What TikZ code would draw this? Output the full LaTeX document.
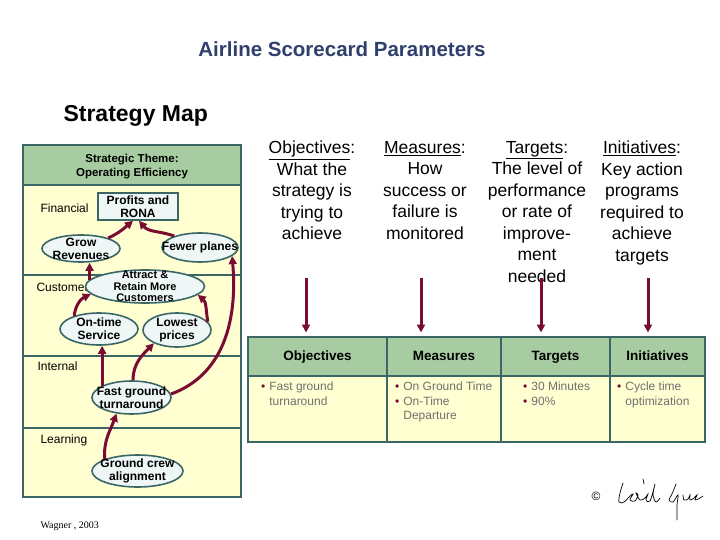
\documentclass[tikz,border=0pt]{standalone}
\usepackage{fontspec}
\setmainfont{Liberation Sans}
\newfontfamily\citefont{Liberation Serif}
\usetikzlibrary{arrows.meta, positioning, shapes.geometric}
\definecolor{flowred}{HTML}{7A0C33}
\definecolor{titleblue}{HTML}{2F406C}
\definecolor{edgeteal}{HTML}{3B6666}
\definecolor{headgreen}{HTML}{A8CCA2}
\definecolor{bodyyellow}{HTML}{FFFFD2}
\definecolor{goalfill}{HTML}{EEF7F6}
\definecolor{bodygray}{HTML}{707070}
\newcommand{\bul}{\textcolor{flowred}{\textbullet}\hspace{4pt}}

\begin{document}
\begin{tikzpicture}[x=1pt, y=-1pt, >={Triangle[length=8pt, width=8pt]},
  flow/.style={->, flowred, line width=3pt},
  goal/.style={ellipse, draw=edgeteal, fill=goalfill, line width=1.6pt, inner sep=0pt},
  goaltext/.style={font=\fontsize{12}{13}\selectfont\bfseries, align=center},
  band/.style={anchor=base west, font=\fontsize{12}{14}\selectfont},
  coltext/.style={anchor=north, align=center, inner sep=0pt, font=\fontsize{17.5}{21.5}\selectfont},
  cellhead/.style={draw=edgeteal, fill=headgreen, line width=1.8pt, minimum height=39pt, inner sep=0pt, outer sep=0pt, text height=10pt, text depth=3pt, font=\fontsize{13.5}{15}\selectfont\bfseries},
  cellbody/.style={draw=edgeteal, fill=bodyyellow, line width=1.8pt, minimum height=66pt, inner sep=0pt, outer sep=0pt},
  bullets/.style={anchor=north west, align=left, inner sep=0pt, text=bodygray, font=\fontsize{12}{14.5}\selectfont}]
  \fill[white] (0,0) rectangle (720,540);
  \useasboundingbox (0,0) rectangle (720,540);

  % titles
  \node[anchor=base, text=titleblue, font=\fontsize{20.5}{22}\selectfont\bfseries] (title) at (342,57) {Airline Scorecard Parameters};
  \node[anchor=base west, font=\fontsize{23}{25}\selectfont\bfseries] (mapname) at (60,122) {Strategy Map};

  % strategy map frame
  \fill[bodyyellow] (23,145) rectangle (241,497);
  \fill[headgreen] (23,145) rectangle (241,185);
  \foreach \y in {185,275,356,428}
    \draw[edgeteal, line width=1.6pt] (23,\y) -- (241,\y);
  \draw[edgeteal, line width=2pt] (23,145) rectangle (241,497);
  \node[align=center, font=\fontsize{11.5}{14}\selectfont\bfseries] (theme) at (132,167) {Strategic Theme:\\Operating Efficiency};

  \node[band] (fin) at (37,213) {Financial};
  \node[band] (cust) at (33,291) {Customer};
  \node[band] (int) at (34,370) {Internal};
  \node[band] (learn) at (37,443) {Learning};

  % objectives
  \node[draw=edgeteal, fill=goalfill, line width=1.6pt, minimum width=80pt, minimum height=27pt, inner sep=0pt, goaltext] (profits) at (138,206.5) {Profits and\\RONA};
  \node[goal, minimum width=78pt, minimum height=27pt, label={[goaltext]center:Grow\\Revenues}] (grow) at (81,248.5) {};
  \node[goal, minimum width=76pt, minimum height=29pt, label={[goaltext]center:Fewer planes}] (fewer) at (200,247.5) {};
  \node[goal, minimum width=119pt, minimum height=33pt, label={[goaltext, font=\fontsize{11}{11.5}\selectfont\bfseries]center:Attract \&\\Retain More\\Customers}] (attract) at (145,286.5) {};
  \node[goal, minimum width=78pt, minimum height=32pt, label={[goaltext]center:On-time\\Service}] (ontime) at (99,329) {};
  \node[goal, minimum width=68pt, minimum height=34pt, label={[goaltext]center:Lowest\\prices}] (lowest) at (177,330) {};
  \node[goal, minimum width=79pt, minimum height=33pt, label={[goaltext]center:Fast ground\\turnaround}] (fast) at (131.5,397.5) {};
  \node[goal, minimum width=91pt, minimum height=32pt, label={[goaltext]center:Ground crew\\alignment}] (crew) at (137.5,471) {};

  % cause and effect links
  \draw[flow] (grow.21) to[out=25, in=-140] ([xshift=-5pt]profits.south);
  \draw[flow] (fewer.156) to[out=160, in=-50] ([xshift=1pt]profits.south);
  \draw[flow] (attract.173) -- (attract.173 |- grow.south);
  \draw[flow] (ontime.152) to[out=85, in=-155] (attract.-172);
  \draw[flow] (lowest.15) to[out=100, in=-40] (attract.-9);
  \draw[flow] (fast.5) to[out=20, in=-85] (fewer.-15);
  \draw[flow] (fast.158) -- (fast.158 |- ontime.south);
  \draw[flow] (fast.85) to[out=90, in=-135] (lowest.-150);
  \draw[flow] (crew.160) to[out=95, in=-110] (fast.-133);

  % scorecard columns
  \node[coltext] (objq) at (312,141) {\underline{Objectives}:\\What the\\strategy is\\trying to\\achieve};
  \node[coltext] (meaq) at (425,141) {\underline{Measures}:\\How\\success or\\failure is\\monitored};
  \node[coltext] (tarq) at (537,141) {\underline{Targets}:\\The level of\\performance\\or rate of\\improve-\\ment\\needed};
  \node[coltext] (iniq) at (642,141) {\underline{Initiatives}:\\Key action\\programs\\required to\\achieve\\targets};

  \node[cellhead, minimum width=139pt, anchor=north west] (objh) at (248,337) {Objectives};
  \node[cellhead, minimum width=114pt, right=0pt of objh] (meah) {Measures};
  \node[cellhead, minimum width=109pt, right=0pt of meah] (tarh) {Targets};
  \node[cellhead, minimum width=95pt, right=0pt of tarh] (inih) {Initiatives};
  \node[cellbody, minimum width=139pt, below=0pt of objh] (objb) {};
  \node[cellbody, minimum width=114pt, below=0pt of meah] (meab) {};
  \node[cellbody, minimum width=109pt, below=0pt of tarh] (tarb) {};
  \node[cellbody, minimum width=95pt, below=0pt of inih] (inib) {};

  \node[bullets] (objl) at ([xshift=13pt, yshift=-6pt]objb.north west) {\bul Fast ground\\\hphantom{\bul}turnaround};
  \node[bullets] (meal) at ([xshift=8pt, yshift=-6pt]meab.north west) {\bul On Ground Time\\\bul On-Time\\\hphantom{\bul}Departure};
  \node[bullets] (tarl) at ([xshift=22pt, yshift=-6pt]tarb.north west) {\bul 30 Minutes\\\bul 90\%};
  \node[bullets] (inil) at ([xshift=7pt, yshift=-6pt]inib.north west) {\bul Cycle time\\\hphantom{\bul}optimization};

  \foreach \name/\x in {obj/306, mea/421, tar/541, ini/648} {
    \coordinate (\name top) at (\x,278);
    \draw[flow, shorten >=4.5pt] (\name top) -- (\name top |- \name h.north);
  }

  % source and signature
  \node[anchor=base west, font=\citefont\fontsize{10}{12}\selectfont] (cite) at (37,528) {Wagner , 2003};
  \node[font=\fontsize{12}{14}\selectfont] (copy) at (596,496) {\textcopyright};
  \draw[line width=0.7pt, line cap=round] plot[smooth, tension=0.6] coordinates {(623,483) (620,493) (619,502) (624,502) (630,496) (633,494) (630,500) (635,501) (638,495) (636,493) (640,500) (645,498) (648,494) (646,500) (650,501) (654,488) (655,484) (653,495) (656,502) (660,498)};
  \draw[line width=0.7pt, line cap=round] plot[smooth, tension=0.6] coordinates {(676,484) (672,494) (669,500) (673,502) (678,495) (677,505) (677,520)};
  \draw[line width=0.7pt, line cap=round] plot[smooth, tension=0.6] coordinates {(683,495) (684,500) (688,499) (690,495) (690,500) (694,498) (697,495) (695,500) (700,498) (703,496)};
  \draw[line width=0.7pt, line cap=round] (643,479) -- (644,484);
\end{tikzpicture}
\end{document}
